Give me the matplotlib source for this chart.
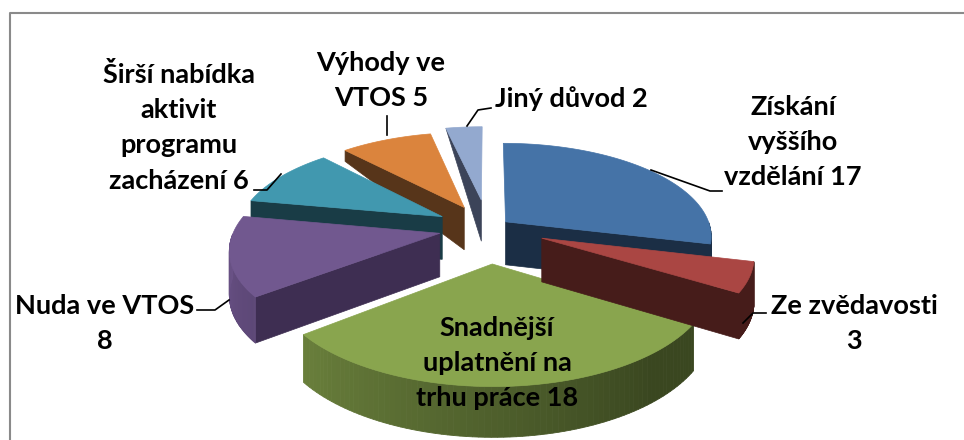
#!/usr/bin/env python3
"""Exploded 3D pie of reasons, drawn by hand on a pixel-sized axes."""
import numpy as np
import matplotlib
matplotlib.use('Agg')
import matplotlib.pyplot as plt
from matplotlib.colors import to_rgb

# ============================================================
# Data
# ============================================================
values = [17, 3, 18, 8, 6, 5, 2]
labels = ['Získání\nvyššího\nvzdělání 17', 'Ze zvědavosti\n3',
          'Snadnější\nuplatnění na\ntrhu práce 18', 'Nuda ve VTOS\n8',
          'Širší nabídka\naktivit\nprogramu\nzacházení 6', 'Výhody ve\nVTOS 5',
          'Jiný důvod 2']
top_colors = ['#4573A7', '#AA4643', '#89A54E', '#71588F', '#4198AF', '#DB843D', '#93A9CF']
side_colors = ['#1B2E45', '#461C1A', '#3A4720', '#3E2E52', '#193C46', '#57351A', '#3C4459']
explode = [0.11, 0.28, 0.37, 0.24, 0.26, 0.26, 0.32]

# Projection (pixels)
CX, CY = 488, 228
R = 205
A = 92
K = 0.15
draw_order = [6, 5, 4, 0, 3, 2, 1]

# label centre x, top of first line
label_pos = [(793, 95), (854, 294), (497, 316), (105, 294), (179, 62), (381, 51), (571, 86)]
leaders = [
    [(651, 170), (710, 191), (722, 191)],
    [(743, 323), (753, 313), (766, 313)],
    [(197, 310), (215, 310), (229, 300)],
    [(254, 190), (267, 190), (281, 174)],
    [(387, 116), (387, 135)],
    [(467, 126), (478, 110), (491, 108)],
]


def project(theta, rad, off, wall=False):
    """theta clockwise from 12 o'clock (deg), rad in pie radii, off = apex offset."""
    t = np.radians(theta)
    X = off[0] + rad * np.sin(t)
    Y = off[1] + rad * np.cos(t)
    s = 1.0 / (1.0 + K * Y)
    y = CY - A * Y * s
    if wall:
        # walls shrink towards the back of the pie
        y = y + np.interp(Y, [-1.4, -0.9, 0.3, 1.2], [51, 47, 42, 0])
    return CX + X * R * s, y


def wall_color(theta, top, side):
    # left part of the outer wall catches the light
    f = np.clip((theta - 140) / 130, 0, 1) * 0.85
    return tuple((1 - f) * np.array(to_rgb(side)) + f * np.array(to_rgb(top)))


def draw_wedge(ax, a0, a1, e, top, side, zo):
    mid = np.radians((a0 + a1) / 2)
    off = (e * np.sin(mid), e * np.cos(mid))
    arc = np.linspace(a0, a1, 80)

    # cut face: right half shows its end edge, left half its start edge
    cut = None
    if a1 < 180:
        cut = a1
    elif a0 > 180:
        cut = a0
    if cut is not None:
        ox, oy = project(cut, 1.0, off)
        ox2, oy2 = project(cut, 1.0, off, True)
        ax0, ay0 = project(cut, 0.0, off)
        ax1, ay1 = project(cut, 0.0, off, True)
        ax.fill([ax0, ox, ox2, ax1], [ay0, oy, oy2, ay1], color=side, lw=0.5, zorder=zo)
        zo += 1

    # outer wall as thin strips, only the part facing the viewer
    vis = arc[(arc > 90) & (arc < 270)]
    for t0, t1 in zip(vis[:-1], vis[1:]):
        xa, ya = project(np.array([t0, t1]), 1.0, off)
        xb, yb = project(np.array([t1, t0]), 1.0, off, True)
        ax.fill(np.r_[xa, xb], np.r_[ya, yb], color=wall_color((t0 + t1) / 2, top, side),
                lw=0.6, zorder=zo)
    zo += 1

    xs, ys = project(arc, 1.0, off)
    px, py = project(0.0, 0.0, off)
    ax.fill(np.r_[px, xs], np.r_[py, ys], color=top, lw=0.5, zorder=zo)
    return zo + 1


def main():
    plt.rcParams['font.family'] = ['Lato', 'DejaVu Sans']
    fig = plt.figure(figsize=(9.64, 4.4), dpi=100)
    ax = fig.add_axes([0, 0, 1, 1])
    ax.set_xlim(0, 964)
    ax.set_ylim(440, 0)
    ax.axis('off')

    # frame is cut off by the crop: only top and left edges show
    ax.plot([9.5, 9.5, 964], [440, 13, 13], color='#8A8A8A', lw=1.5, zorder=1)

    edges = np.r_[0, np.cumsum(values)] / sum(values) * 360
    zo = 2
    for i in draw_order:
        zo = draw_wedge(ax, edges[i], edges[i + 1], explode[i], top_colors[i], side_colors[i], zo)

    for pts in leaders:
        xs, ys = zip(*pts)
        ax.plot(xs, ys, color='black', lw=1.2, zorder=50)

    for lab, (x, y) in zip(labels, label_pos):
        ax.text(x, y, lab, ha='center', va='top', fontsize=19.5, fontweight='bold',
                color='black', linespacing=1.56, zorder=60)

    fig.savefig('out.png', dpi=100)


if __name__ == '__main__':
    main()
